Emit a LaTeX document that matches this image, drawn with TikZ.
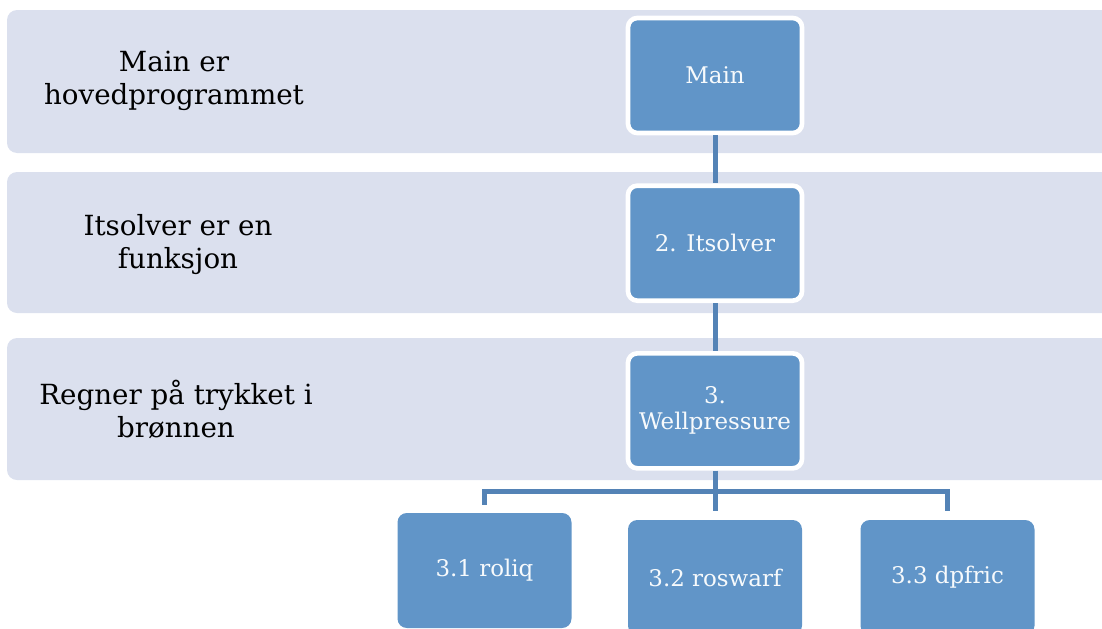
\documentclass[tikz,border=0pt]{standalone}
\usepackage{fontspec}
\setmainfont{DejaVu Serif}
\definecolor{bandgray}{RGB}{219,224,238}
\definecolor{boxblue}{RGB}{97,149,200}
\definecolor{linkblue}{RGB}{84,131,182}
\usetikzlibrary{positioning}

\begin{document}
\begin{tikzpicture}[x=0.75pt, y=-0.75pt,
          band/.style={fill=bandgray, rounded corners=7.5pt},
          box/.style={fill=boxblue, draw=white, line width=3.5pt, rounded corners=7pt,
              minimum width=130.5pt, minimum height=86.25pt, text=white!95!boxblue,
              font=\fontsize{17.2}{19.5}\selectfont, align=center, inner sep=2pt},
          leaf/.style={box, draw=none},
          note/.style={font=\fontsize{20.8}{24.75}\selectfont, align=center},
          link/.style={linkblue, line width=3.75pt}
        ]
        \useasboundingbox (0,0) rectangle (1102,628);
        % bands
        \fill[band] (7,10)  rectangle (1130,153);
        \fill[band] (7,172) rectangle (1130,313);
        \fill[band] (7,338) rectangle (1130,480);
        \node[note] (t1) at (174,81)  {Main er\\hovedprogrammet};
        \node[note] (t2) at (178,245) {Itsolver er en\\funksjon};
        \node[note] (t3) at (176,409) {Regner på trykket i\\brønnen};
        % boxes
        \node[box] (main) at (715,75.5) {Main};
        \node[box, below=36pt of main] (its)  {2. Itsolver};
        \node[box, below=36pt of its]  (well) {3.\\Wellpressure};
        \node[leaf] (roliq)   at (484.5,570.5) {3.1 roliq};
        \node[leaf] (roswarf) at (715,577.5)   {3.2 roswarf};
        \node[leaf] (dpfric)  at (947.5,577.5) {3.3 dpfric};
        \coordinate (fork) at (715,491);
        \draw[link] (main) -- (its);
        \draw[link] (its) -- (well);
        \draw[link] (well) -- (fork);
        \draw[link, shorten >=4.5pt] (fork) -| (roliq);
        \draw[link, shorten >=5pt] (fork) -- (roswarf);
        \draw[link, shorten >=5pt] (fork) -| (dpfric);
      \end{tikzpicture}
\end{document}
